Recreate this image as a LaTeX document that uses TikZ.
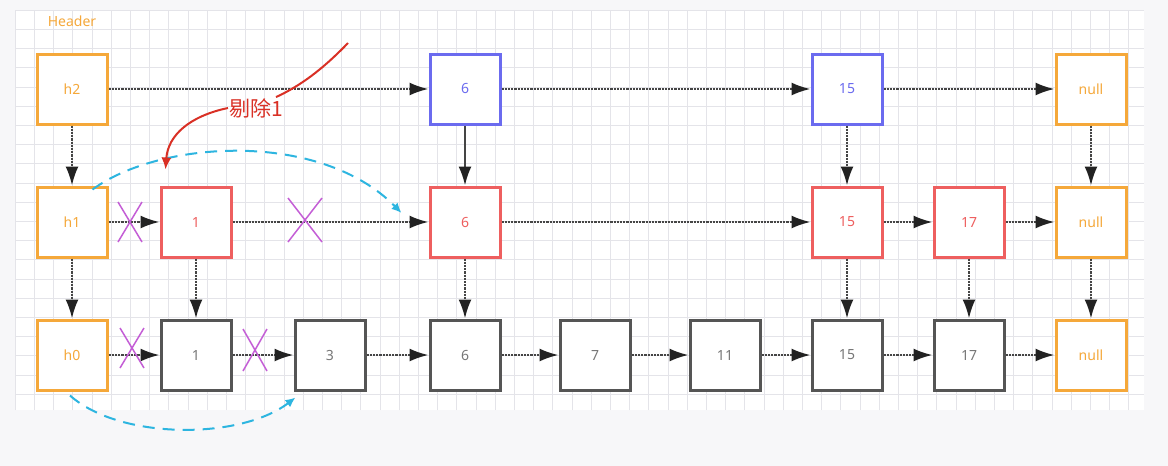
\documentclass[tikz,border=0pt]{standalone}
\usepackage{fontspec}
\setmainfont{Noto Sans}
\newfontfamily\cjkfont{Noto Sans CJK SC}
\usetikzlibrary{positioning, arrows.meta}

\definecolor{hdrorange}{HTML}{F5A83A}
\definecolor{topblue}{HTML}{6B6BEF}
\definecolor{midred}{HTML}{EE5F5F}
\definecolor{basegray}{HTML}{555555}
\definecolor{linkgray}{HTML}{454545}
\definecolor{tipdark}{HTML}{222222}
\definecolor{crosspurple}{HTML}{C45ED6}
\definecolor{skipcyan}{HTML}{2DB5E0}
\definecolor{delred}{HTML}{D93025}
\definecolor{gridline}{HTML}{E4E4E9}
\definecolor{pagebg}{HTML}{F7F7F9}

\begin{document}
\begin{tikzpicture}[
    x=1pt, y=-1pt,
    node distance=60pt,
    box/.style={
      draw, line width=3pt, minimum size=70pt, inner sep=0pt, fill=white, font=\fontsize{14}{14}\selectfont
    },
    hdrbox/.style={box, draw=hdrorange, text=hdrorange},
    topbox/.style={box, draw=topblue, text=topblue},
    midbox/.style={box, draw=midred, text=midred},
    basebox/.style={box, draw=basegray, text=basegray!80},
    link/.style={line width=2.2pt, densely dotted, draw=linkgray, -{Latex[length=19pt,width=13pt,color=tipdark]}},
    cross/.style={line width=1.5pt, crosspurple},
    skip/.style={line width=2pt, dash pattern=on 12pt off 8pt, skipcyan, -{Latex[length=10pt,width=9pt]}},
    del/.style={line width=2pt, delred},
  ]
  % background and grid
  \fill [pagebg] (0,0) rectangle (1168,466);
  \fill [white] (15,10) rectangle (1144,410);
  \begin{scope}[shift={(15,10)}]
    \draw [gridline, line width=0.6pt, step=19.2pt] (0,0) grid (1129,400);
  \end{scope}
  \useasboundingbox (0,0) rectangle (1168,466);

  % bottom level
  \node [hdrbox] (h0) at (72,355) {h0};
  \node [basebox, right=51pt of h0] (b1) {1};
  \node [basebox, right=61pt of b1] (b3) {3};
  \node [basebox, right=62pt of b3] (b6) {6};
  \node [basebox, right=57pt of b6] (b7) {7};
  \node [basebox, right=57pt of b7] (b11) {11};
  \node [basebox, right=49pt of b11] (b15) {15};
  \node [basebox, right=49pt of b15] (b17) {17};
  \node [hdrbox, right=49pt of b17] (b_null) {null};

  % middle level
  \node [hdrbox, above=of h0] (h1) {h1};
  \node [midbox, above=of b1] (m1) {1};
  \node [midbox, above=of b6] (m6) {6};
  \node [midbox, above=of b15] (m15) {15};
  \node [midbox, above=of b17] (m17) {17};
  \node [hdrbox, above=of b_null] (m_null) {null};

  % top level
  \node [hdrbox, above=of h1] (h2) {h2};
  \node [topbox, above=of m6] (t6) {6};
  \node [topbox, above=of m15] (t15) {15};
  \node [hdrbox, above=of m_null] (t_null) {null};
  \node [hdrorange, above=22pt of h2, font=\fontsize{14}{14}\selectfont] (header) {Header};

  % links
  \foreach \a/\b in {h2/t6, t6/t15, t15/t_null, h1/m1, m1/m6, m6/m15, m15/m17, m17/m_null,
      h0/b1, b1/b3, b3/b6, b6/b7, b7/b11, b11/b15, b15/b17, b17/b_null,
      h2/h1, t15/m15, t_null/m_null, h1/h0, m1/b1, m6/b6, m15/b15, m17/b17, m_null/b_null}
    \draw [link] (\a) -- (\b);
  \draw [link, solid] (t6) -- (m6);

  % crossed out links
  \foreach \cx/\cy/\w/\h in {130/222/12/20, 305/220/17/22, 132/348/12/20, 255/350/12/21}
    \draw [cross] (\cx-\w,\cy-\h) -- (\cx+\w,\cy+\h) (\cx+\w,\cy-\h) -- (\cx-\w,\cy+\h);

  % new paths after removal
  \coordinate (skip_top_start) at ([xshift=-16pt, yshift=-4pt]h1.north east);
  \coordinate (skip_top_end) at ([xshift=-27pt, yshift=9pt]m6.west);
  \draw [skip] (skip_top_start) .. controls (160,140) and (320,130) .. (skip_top_end);
  \coordinate (skip_bot_start) at ([xshift=-2pt, yshift=-4pt]h0.south);
  \coordinate (skip_bot_end) at ([xshift=2pt, yshift=-6pt]b3.south west);
  \draw [skip] (skip_bot_start) .. controls (120,440) and (240,440) .. (skip_bot_end);

  % delete label
  \node [delred, inner sep=1pt, font=\cjkfont\fontsize{21}{21}\selectfont] (del_label) at (256,108) {剔除1};
  \coordinate (del_start) at (348,43);
  \coordinate (del_end) at ([xshift=6pt, yshift=16pt]m1.north west);
  \draw [del] (del_start) .. controls (322,70) and (300,86) .. ([xshift=-8pt]del_label.north east);
  \draw [del, -{Latex[length=12pt,width=10pt]}] (del_label.west) .. controls (190,116) and (168,135) .. (del_end);
\end{tikzpicture}
\end{document}
